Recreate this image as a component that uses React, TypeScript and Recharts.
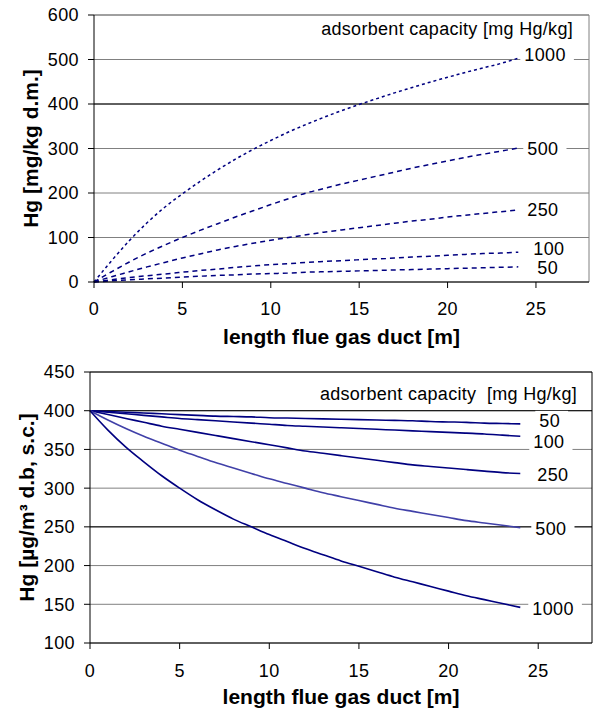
import React from 'react'
import { LineChart, Line, XAxis, YAxis, CartesianGrid, ReferenceLine } from 'recharts'

// duct length [m]
const lengthM = [0, 1, 2, 3, 4, 5, 6, 7, 8, 9, 10, 11, 12, 13, 14, 15, 16, 17, 18, 19, 20, 21, 22, 23, 24]
const xTicks = [0, 5, 10, 15, 20, 25]

// Hg load on adsorbent [mg/kg d.m.], per adsorbent capacity
const load1000 = [0, 48, 93, 133, 168, 198, 226, 252, 276, 298, 318, 337, 354, 370, 385, 399, 412, 425, 437, 449, 460, 471, 481, 491, 503]
const load500 = [0, 23, 45, 65, 83, 100, 116, 131, 146, 160, 174, 187, 200, 210, 220, 229, 238, 247, 256, 264, 272, 280, 287, 294, 301]
const load250 = [0, 12, 23, 34, 44, 54, 63, 72, 80, 87, 94, 100, 106, 112, 117, 122, 127, 132, 137, 141, 146, 150, 154, 158, 162]
const load100 = [0, 5, 10, 14, 18, 22, 26, 29, 33, 36, 39, 41, 44, 46, 48, 50, 52, 54, 56, 58, 60, 62, 64, 65, 67]
const load50 = [0, 2.5, 5, 7, 9, 11, 13, 15, 16, 18, 19, 20, 22, 23, 24, 25, 26, 27, 28, 29, 30, 31, 32, 33, 34]
const loadTicks = [0, 100, 200, 300, 400, 500, 600]

// Hg in flue gas [µg/m³ d.b, s.c.]
const gas50 = [400, 399, 398, 397, 396, 395, 394, 393, 392.5, 392, 391, 390.5, 390, 389.5, 389, 388.5, 388, 387.5, 387, 386, 385.5, 385, 384, 383.5, 383]
const gas100 = [400, 398, 396, 394, 392, 390, 388.5, 387, 385.5, 384, 382.5, 381, 380, 379, 378, 377, 376, 375, 374, 373, 372, 371, 370, 368.5, 367]
const gas250 = [400, 395, 390, 385, 380, 376, 372, 368, 364, 360, 356, 352, 348, 345, 342, 339, 336, 333, 330, 328, 326, 324, 322, 320, 319]
const gas500 = [400, 388, 377, 367, 358, 349, 341, 333, 326, 319, 312, 306, 300, 294, 289, 284, 279, 274, 270, 266, 262, 258, 255, 252, 249]
const gas1000 = [400, 375, 353, 334, 316, 300, 285, 272, 260, 250, 240, 231, 222, 214, 206, 199, 192, 185, 179, 173, 167, 161, 156, 151, 146]
const gasTicks = [100, 150, 200, 250, 300, 350, 400, 450]

const loadData = lengthM.map((x, i) => ({
  x, c1000: load1000[i], c500: load500[i], c250: load250[i], c100: load100[i], c50: load50[i]
}))
const gasData = lengthM.map((x, i) => ({
  x, c1000: gas1000[i], c500: gas500[i], c250: gas250[i], c100: gas100[i], c50: gas50[i]
}))

const FONT = '"Liberation Sans", Arial, sans-serif'
const NAVY = '#000080'
const GRID = '#808080'
const LAST = lengthM.length - 1
const tickStyle = { fill: '#000', fontSize: 18, fontFamily: FONT, letterSpacing: 0.4 }

// label at the end of each curve, on a white patch
function endLabel(text: string, dx: number, dy: number) {
  return (p: any) => {
    if (p.index !== LAST) return null
    const w = text.length * 10.4
    return (
      <g>
        <rect x={p.x + dx - 4} y={p.y + dy - 10} width={w + 12} height={20} fill="#fff" />
        <text x={p.x + dx} y={p.y + dy + 6.5} fontSize={18} fontFamily={FONT} letterSpacing={0.4} fill="#000">
          {text}
        </text>
      </g>
    )
  }
}

const SideTitle = ({ viewBox, value, cx }: any) => {
  const cy = viewBox.y + viewBox.height / 2
  return (
    <text x={cx} y={cy} transform={`rotate(-90 ${cx} ${cy})`} textAnchor="middle" dominantBaseline="central"
      fontSize={21} fontWeight="bold" fontFamily={FONT} fill="#000">
      {value}
    </text>
  )
}

const CornerNote = ({ viewBox, value, right, top }: any) => (
  <text x={viewBox.x + viewBox.width - right} y={viewBox.y + top} textAnchor="end"
    fontSize={18} fontFamily={FONT} letterSpacing={0.3} fill="#000">
    {value}
  </text>
)

const xTitle = (offset: number) => ({
  value: 'length flue gas duct [m]',
  position: 'insideBottom' as const,
  offset,
  style: { fontSize: 21, fontWeight: 'bold', fontFamily: FONT, fill: '#000' }
})

export default function App() {
  return (
    <div style={{ position: 'absolute', left: 0, top: 0, width: 594, height: 718, background: '#fff' }}>
      <LineChart width={594} height={360} data={loadData} margin={{ top: 15, right: 5, bottom: 0, left: 0 }}>
        <CartesianGrid vertical={false} stroke={GRID} horizontalValues={loadTicks} />
        <ReferenceLine y={400} stroke="#000" />
        <ReferenceLine y={600} stroke={GRID}
          label={<CornerNote value="adsorbent capacity [mg Hg/kg]" right={16} top={20} />} />
        <ReferenceLine x={28} stroke={GRID} />
        <XAxis type="number" dataKey="x" domain={[0, 28]} ticks={xTicks} interval={0} height={78}
          tickSize={6} tickMargin={14} tick={tickStyle} axisLine={{ stroke: '#000' }} tickLine={{ stroke: '#000' }}
          label={xTitle(16)} />
        <YAxis type="number" domain={[0, 600]} ticks={loadTicks} interval={0} width={94}
          tickSize={6} tickMargin={9} tick={tickStyle} axisLine={{ stroke: '#000' }} tickLine={{ stroke: '#000' }}
          label={<SideTitle value="Hg [mg/kg d.m.]" cx={30} />} />
        <Line dataKey="c1000" type="monotone" stroke={NAVY} strokeWidth={1.5} strokeDasharray="3 3" dot={false}
          isAnimationActive={false} label={endLabel('1000', 6, -4)} />
        <Line dataKey="c500" type="monotone" stroke={NAVY} strokeWidth={1.5} strokeDasharray="5 4" dot={false}
          isAnimationActive={false} label={endLabel('500', 9, 0)} />
        <Line dataKey="c250" type="monotone" stroke={NAVY} strokeWidth={1.5} strokeDasharray="5 4" dot={false}
          isAnimationActive={false} label={endLabel('250', 9, 0)} />
        <Line dataKey="c100" type="monotone" stroke={NAVY} strokeWidth={1.5} strokeDasharray="5 4" dot={false}
          isAnimationActive={false} label={endLabel('100', 15, -4)} />
        <Line dataKey="c50" type="monotone" stroke={NAVY} strokeWidth={1.5} strokeDasharray="5 4" dot={false}
          isAnimationActive={false} label={endLabel('50', 19, 1)} />
      </LineChart>

      <LineChart width={594} height={358} data={gasData} margin={{ top: 12, right: 2, bottom: 0, left: 0 }}>
        <CartesianGrid vertical={false} stroke={GRID} horizontalValues={gasTicks} />
        <ReferenceLine y={400} stroke="#000" />
        <ReferenceLine y={250} stroke="#000" />
        <ReferenceLine y={450} stroke="#000"
          label={<CornerNote value={'adsorbent capacity \u00a0[mg Hg/kg]'} right={15} top={28} />} />
        <ReferenceLine x={28} stroke="#000" />
        <XAxis type="number" dataKey="x" domain={[0, 28]} ticks={xTicks} interval={0} height={75}
          tickSize={6} tickMargin={15} tick={tickStyle} axisLine={{ stroke: '#000' }} tickLine={{ stroke: '#000' }}
          label={xTitle(14)} />
        <YAxis type="number" domain={[100, 450]} ticks={gasTicks} interval={0} width={90}
          tickSize={6} tickMargin={9} tick={tickStyle} axisLine={{ stroke: '#000' }} tickLine={{ stroke: '#000' }}
          label={<SideTitle value="Hg [µg/m³ d.b, s.c.]" cx={26} />} />
        <Line dataKey="c50" type="monotone" stroke={NAVY} strokeWidth={1.6} dot={false}
          isAnimationActive={false} label={endLabel('50', 19, -3)} />
        <Line dataKey="c100" type="monotone" stroke={NAVY} strokeWidth={1.6} dot={false}
          isAnimationActive={false} label={endLabel('100', 13, 5)} />
        <Line dataKey="c250" type="monotone" stroke={NAVY} strokeWidth={1.6} dot={false}
          isAnimationActive={false} label={endLabel('250', 17, 1)} />
        <Line dataKey="c500" type="monotone" stroke="#4040a8" strokeWidth={1.6} dot={false}
          isAnimationActive={false} label={endLabel('500', 15, 1)} />
        <Line dataKey="c1000" type="monotone" stroke={NAVY} strokeWidth={1.6} dot={false}
          isAnimationActive={false} label={endLabel('1000', 12, 1)} />
      </LineChart>
    </div>
  )
}
